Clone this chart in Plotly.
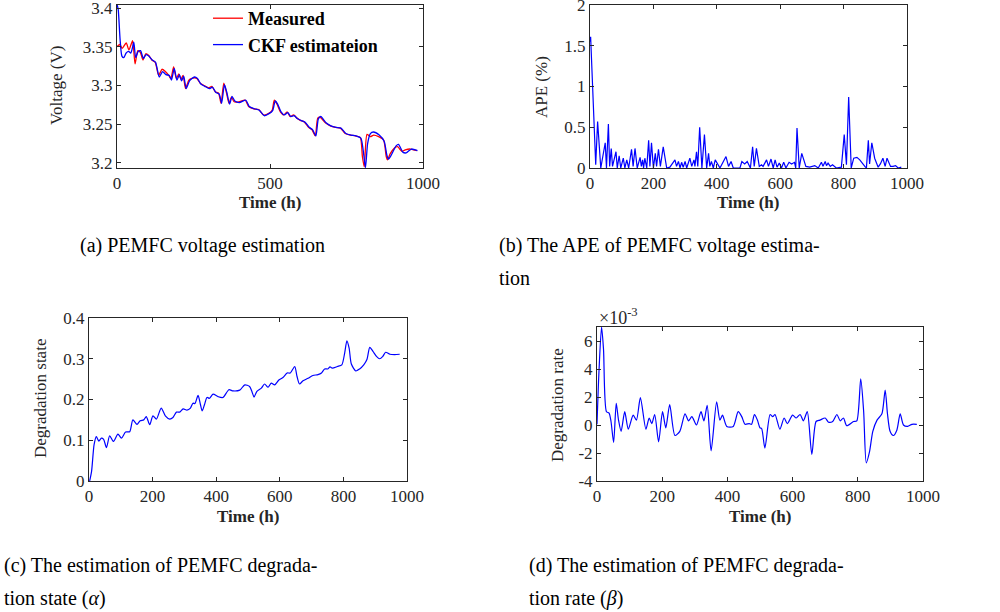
import plotly.graph_objects as go

# ---------------- data ----------------
# (a) voltage
meas_t = [0, 9, 17, 30, 39, 51, 59, 68, 76, 85, 94, 103, 114, 125, 136, 147, 158, 169, 176, 185,
          194, 202, 209, 216, 224, 235, 251, 261, 272, 285, 300, 310, 321, 332, 340, 349, 357, 366, 374, 383,
          398, 419, 430, 447, 463, 479, 496, 507, 514, 523, 534, 545, 556, 566, 577, 588, 599, 612, 626, 637,
          648, 656, 664, 681, 697, 714, 730, 746, 763, 779, 795, 802, 808, 817, 828, 839, 855, 871, 880, 884,
          893, 906, 917, 931, 942, 959, 980]
meas_v = [3.350, 3.353, 3.348, 3.355, 3.346, 3.358, 3.328, 3.345, 3.343, 3.333, 3.341, 3.339, 3.333, 3.330, 3.313, 3.321, 3.318, 3.313, 3.309, 3.324,
          3.309, 3.315, 3.308, 3.313, 3.296, 3.307, 3.310, 3.309, 3.303, 3.300, 3.297, 3.299, 3.292, 3.290, 3.277, 3.303, 3.292, 3.277, 3.285, 3.279,
          3.279, 3.281, 3.273, 3.270, 3.269, 3.262, 3.264, 3.268, 3.281, 3.276, 3.266, 3.262, 3.266, 3.260, 3.262, 3.258, 3.255, 3.253, 3.246, 3.243,
          3.235, 3.258, 3.259, 3.252, 3.248, 3.246, 3.245, 3.238, 3.236, 3.235, 3.233, 3.208, 3.195, 3.237, 3.234, 3.236, 3.234, 3.230, 3.208, 3.204,
          3.212, 3.219, 3.221, 3.215, 3.217, 3.218, 3.216]

ckf_t = [0, 4, 10, 16, 22, 30, 38, 45, 50, 55, 61, 69, 77, 86, 95, 104, 115, 126, 138, 149,
         160, 171, 178, 187, 196, 204, 211, 218, 226, 237, 253, 263, 274, 287, 302, 312, 323, 334, 342, 351,
         359, 368, 376, 385, 400, 421, 432, 449, 465, 481, 498, 509, 517, 525, 536, 547, 558, 568, 579, 590,
         601, 614, 628, 639, 650, 658, 666, 683, 699, 716, 732, 748, 765, 781, 797, 805, 812, 819, 828, 838,
         857, 873, 882, 887, 896, 912, 920, 934, 945, 962, 982]
ckf_v = [3.405, 3.398, 3.360, 3.338, 3.336, 3.342, 3.344, 3.342, 3.348, 3.356, 3.336, 3.344, 3.345, 3.335, 3.340, 3.338, 3.333, 3.330, 3.311, 3.318,
         3.314, 3.313, 3.307, 3.322, 3.307, 3.314, 3.306, 3.312, 3.296, 3.306, 3.311, 3.309, 3.302, 3.299, 3.296, 3.298, 3.291, 3.289, 3.277, 3.301,
         3.291, 3.276, 3.286, 3.280, 3.278, 3.281, 3.273, 3.270, 3.268, 3.261, 3.264, 3.268, 3.280, 3.276, 3.266, 3.262, 3.265, 3.260, 3.261, 3.257,
         3.255, 3.253, 3.246, 3.243, 3.235, 3.257, 3.260, 3.252, 3.248, 3.246, 3.245, 3.238, 3.236, 3.235, 3.232, 3.215, 3.194, 3.225, 3.238, 3.240,
         3.236, 3.228, 3.210, 3.205, 3.210, 3.222, 3.224, 3.214, 3.213, 3.218, 3.216]

# (b) APE (%)
ape_t = [0, 2, 18, 24, 34, 48, 52, 58, 62, 67, 71, 82, 86, 92, 97, 105, 110, 116, 122, 131,
         136, 142, 149, 158, 162, 166, 169, 173, 179, 185, 189, 194, 200, 206, 210, 216, 222, 231, 242, 252,
         268, 273, 279, 284, 289, 294, 300, 305, 315, 321, 328, 331, 336, 340, 346, 353, 361, 368, 374, 378,
         383, 389, 395, 410, 429, 437, 445, 452, 473, 479, 488, 496, 506, 513, 518, 525, 534, 541, 546, 557,
         563, 571, 578, 584, 590, 597, 604, 611, 618, 628, 636, 645, 649, 653, 660, 668, 681, 693, 709, 720,
         730, 735, 742, 746, 751, 758, 765, 777, 793, 802, 809, 816, 824, 832, 842, 851, 867, 872, 878, 882,
         889, 898, 909, 916, 924, 931, 937, 948, 956, 964, 972, 982]
ape_v = [1.55, 1.61, 0.04, 0.57, 0.00, 0.31, 0.00, 0.54, 0.02, 0.24, 0.02, 0.20, 0.00, 0.15, 0.00, 0.12, 0.00, 0.10, 0.00, 0.23,
         0.02, 0.24, 0.00, 0.13, 0.02, 0.10, 0.00, 0.12, 0.00, 0.34, 0.02, 0.31, 0.00, 0.18, 0.02, 0.23, 0.02, 0.26, 0.00, 0.01,
         0.10, 0.02, 0.08, 0.00, 0.07, 0.01, 0.08, 0.00, 0.12, 0.02, 0.10, 0.02, 0.20, 0.02, 0.50, 0.00, 0.41, 0.00, 0.18, 0.02,
         0.08, 0.00, 0.10, 0.00, 0.14, 0.02, 0.08, 0.00, 0.00, 0.08, 0.05, 0.08, 0.00, 0.26, 0.02, 0.24, 0.02, 0.04, 0.02, 0.10,
         0.02, 0.11, 0.00, 0.10, 0.01, 0.06, 0.00, 0.07, 0.00, 0.07, 0.05, 0.07, 0.00, 0.49, 0.00, 0.18, 0.02, 0.01, 0.03, 0.00,
         0.07, 0.02, 0.08, 0.03, 0.06, 0.02, 0.04, 0.00, 0.01, 0.41, 0.04, 0.87, 0.00, 0.12, 0.13, 0.10, 0.02, 0.00, 0.34, 0.05,
         0.31, 0.12, 0.01, 0.05, 0.12, 0.02, 0.12, 0.02, 0.02, 0.03, 0.00, 0.01]

# (c) degradation state
alpha_t = [2, 8, 16, 23, 31, 39, 46, 55, 65, 77, 91, 102, 115, 128, 138, 151, 161, 172, 180, 191,
           201, 212, 227, 240, 254, 264, 275, 285, 296, 308, 319, 327, 333, 343, 350, 356, 363, 371, 379, 390,
           406, 421, 440, 453, 474, 490, 505, 513, 519, 528, 542, 552, 563, 573, 584, 597, 610, 623, 633, 647,
           654, 662, 673, 689, 704, 720, 731, 741, 751, 758, 765, 781, 795, 804, 811, 818, 825, 839, 851, 864,
           874, 883, 893, 904, 914, 924, 933, 946, 961, 977]
alpha_v = [0.000, 0.023, 0.089, 0.109, 0.098, 0.105, 0.102, 0.082, 0.111, 0.097, 0.115, 0.105, 0.120, 0.121, 0.150, 0.139, 0.148, 0.150, 0.158, 0.138,
           0.160, 0.152, 0.179, 0.160, 0.152, 0.156, 0.169, 0.169, 0.177, 0.174, 0.179, 0.191, 0.190, 0.210, 0.189, 0.172, 0.187, 0.205, 0.203, 0.213,
           0.207, 0.205, 0.224, 0.221, 0.223, 0.236, 0.232, 0.218, 0.206, 0.220, 0.228, 0.238, 0.230, 0.240, 0.236, 0.248, 0.254, 0.265, 0.265, 0.281,
           0.257, 0.238, 0.246, 0.252, 0.259, 0.261, 0.265, 0.275, 0.275, 0.280, 0.277, 0.281, 0.285, 0.314, 0.344, 0.326, 0.287, 0.270, 0.275, 0.285,
           0.298, 0.328, 0.318, 0.306, 0.300, 0.306, 0.316, 0.311, 0.310, 0.311]

# (d) degradation rate (x 1e-3)
beta_t = [0, 6, 14, 20, 29, 37, 43, 51, 59, 66, 74, 85, 96, 111, 121, 133, 150, 160, 168, 177,
          189, 201, 211, 223, 239, 254, 270, 281, 291, 305, 319, 328, 338, 350, 367, 377, 385, 398, 418, 433,
          444, 454, 467, 474, 483, 492, 500, 505, 515, 531, 539, 546, 561, 574, 584, 600, 611, 623, 633, 645,
          659, 672, 684, 700, 710, 723, 736, 746, 756, 766, 787, 797, 809, 818, 826, 836, 846, 859, 874, 884,
          891, 899, 909, 920, 930, 940, 953, 966, 981]
beta_v = [0.05, 3.8, 7.0, 5.4, 0.95, 0.85, 0.25, -1.25, 1.55, 0.35, -0.45, 0.95, -0.3, 0.7, 0.35, 1.95, -0.3, 0.5, 0.1, 0.75,
          -1.2, 0.95, -0.2, 1.45, -0.75, -0.45, 0.8, 0.3, 0.6, 0.0, 0.95, 0.3, 1.4, -1.85, 1.65, 0.35, 0.7, -0.1, -0.1, 0.95,
          0.6, 0.05, 0.1, 0.05, 0.75, 0.35, -0.2, -0.25, -1.65, 0.75, 0.6, 0.75, -0.3, 0.5, 0.1, 0.7, 0.5, 0.75, 0.3, 0.95,
          -2.1, 0.25, 0.35, 0.5, 0.2, 0.25, 0.75, 0.3, 0.5, -0.05, 0.25, 0.3, 3.3, 0.95, -2.7, -1.9, -0.45, 0.35, 0.8, 2.5,
          0.8, -0.45, -0.75, -0.35, 0.8, 0.0, -0.1, 0.05, 0.05]

captions = {
    "a": "(a) PEMFC voltage estimation",
    "b1": "(b) The APE of PEMFC voltage estima-",
    "b2": "tion",
    "c1": "(c) The estimation of PEMFC degrada-",
    "c2": "tion state (<i>α</i>)",
    "d1": "(d) The estimation of PEMFC degrada-",
    "d2": "tion rate (<i>β</i>)",
}
x_title = "Time (h)"
y_titles = ["Voltage (V)", "APE (%)", "Degradation state", "Degradation rate"]

# ---------------- figure ----------------
SERIF = "Liberation Serif, Times New Roman, DejaVu Serif, serif"
AX = "#262626"
W, H = 1000, 612

fig = go.Figure()
fig.add_trace(go.Scatter(x=meas_t, y=meas_v, mode="lines", name="<b>Measured</b>",
                         line=dict(color="#ff0000", width=1.3, shape="spline", smoothing=0.6),
                         xaxis="x", yaxis="y"))
fig.add_trace(go.Scatter(x=ckf_t, y=ckf_v, mode="lines", name="<b>CKF estimateion</b>",
                         line=dict(color="#0000ff", width=1.3, shape="spline", smoothing=0.6),
                         xaxis="x", yaxis="y"))
fig.add_trace(go.Scatter(x=ape_t, y=ape_v, mode="lines", showlegend=False,
                         line=dict(color="#0000ff", width=1.2), xaxis="x2", yaxis="y2"))
fig.add_trace(go.Scatter(x=alpha_t, y=alpha_v, mode="lines", showlegend=False,
                         line=dict(color="#0000ff", width=1.2, shape="spline", smoothing=0.7),
                         xaxis="x3", yaxis="y3"))
fig.add_trace(go.Scatter(x=beta_t, y=beta_v, mode="lines", showlegend=False,
                         line=dict(color="#0000ff", width=1.2, shape="spline", smoothing=0.7),
                         xaxis="x4", yaxis="y4"))


def px_dom_x(a, b):
    return [a / W, b / W]


def px_dom_y(top, bot):
    return [1 - bot / H, 1 - top / H]


def ax(**kw):
    base = dict(showline=True, linecolor=AX, linewidth=1, mirror="ticks", ticks="inside",
                ticklen=4, tickcolor=AX, showgrid=False, zeroline=False, automargin=False,
                ticklabeloverflow="allow",
                tickfont=dict(family=SERIF, size=17, color=AX))
    base.update(kw)
    return base


fig.update_layout(
    width=W, height=H, autosize=False,
    margin=dict(l=0, r=0, t=0, b=0),
    paper_bgcolor="white", plot_bgcolor="white",
    font=dict(family=SERIF, color=AX),
    xaxis=ax(domain=px_dom_x(117, 423), anchor="y", range=[0, 1000],
             tickvals=[0, 500, 1000]),
    yaxis=ax(domain=px_dom_y(5, 168), anchor="x", range=[3.1935, 3.404],
             tickvals=[3.2, 3.25, 3.3, 3.35, 3.4], ticktext=["3.2", "3.25", "3.3", "3.35", "3.4"]),
    xaxis2=ax(domain=px_dom_x(590, 907), anchor="y2", range=[0, 1000],
              tickvals=[0, 200, 400, 600, 800, 1000]),
    yaxis2=ax(domain=px_dom_y(5, 168), anchor="x2", range=[0, 2],
              tickvals=[0, 0.5, 1, 1.5, 2], ticktext=["0", "0.5", "1", "1.5", "2"]),
    xaxis3=ax(domain=px_dom_x(89, 407), anchor="y3", range=[0, 1000],
              tickvals=[0, 200, 400, 600, 800, 1000]),
    yaxis3=ax(domain=px_dom_y(318, 481), anchor="x3", range=[0, 0.4],
              tickvals=[0, 0.1, 0.2, 0.3, 0.4], ticktext=["0", "0.1", "0.2", "0.3", "0.4"]),
    xaxis4=ax(domain=px_dom_x(597, 923), anchor="y4", range=[0, 1000],
              tickvals=[0, 200, 400, 600, 800, 1000]),
    yaxis4=ax(domain=px_dom_y(327, 481), anchor="x4", range=[-4, 7],
              tickvals=[-4, -2, 0, 2, 4, 6], ticktext=["-4", "-2", "0", "2", "4", "6"]),
    legend=dict(x=0.208, y=1.0, xanchor="left", yanchor="top",
                bgcolor="rgba(255,255,255,0)", borderwidth=0,
                font=dict(family=SERIF, size=18, color="black"),
                itemwidth=30, tracegroupgap=0),
    showlegend=True,
)


def add_text(text, xp, yp, size, angle=0, xanchor="center", color=AX):
    fig.add_annotation(text=text, x=xp / W, y=1 - yp / H, xref="paper", yref="paper",
                       xanchor=xanchor, yanchor="middle", showarrow=False, textangle=angle,
                       font=dict(family=SERIF, size=size, color=color))


# axis titles
for xc, yc in [(270, 203), (748, 203), (248, 516), (760, 516)]:
    add_text("<b>" + x_title + "</b>", xc, yc, 17)
for t, xc, yc in zip(y_titles, [57, 542, 40, 557], [86, 87, 399, 405]):
    add_text(t, xc, yc, 17, angle=-90)

# captions
for key, xp, yp in [("a", 78, 245), ("b1", 497, 245), ("b2", 497, 278),
                    ("c1", 2, 565), ("c2", 2, 598), ("d1", 527, 565), ("d2", 527, 598)]:
    add_text(captions[key], xp, yp, 20, xanchor="left", color="black")

# exponent label for panel (d)
add_text("×10<sup>-3</sup>", 597, 316, 18, xanchor="left")

fig.write_html("out.html", config={"displayModeBar": False},
               post_script="document.body.style.margin='0px';document.body.style.overflow='hidden';")
